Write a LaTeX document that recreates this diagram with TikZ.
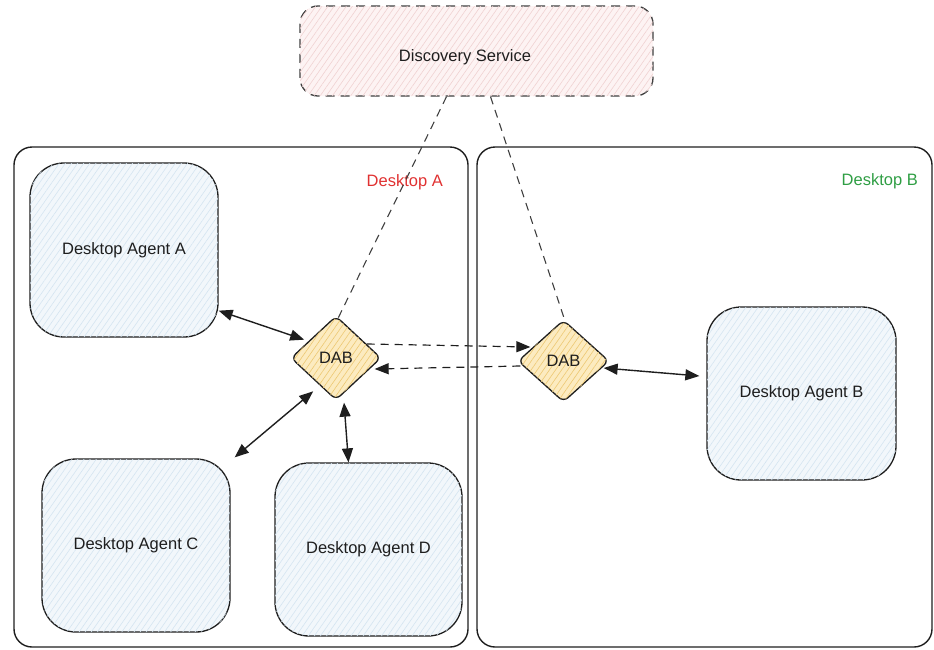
\documentclass[tikz,border=0pt]{standalone}
\usepackage{fontspec}
\setmainfont{Liberation Sans}
\usetikzlibrary{shapes.geometric,arrows.meta,patterns.meta}
\definecolor{ink}{HTML}{1E1E1E}
\definecolor{agfill}{HTML}{F2F7FB}
\definecolor{aghatch}{HTML}{D5E5F1}
\definecolor{dabfill}{HTML}{FCEBC0}
\definecolor{dabhatch}{HTML}{EDC873}
\definecolor{dsfill}{HTML}{FDF3F3}
\definecolor{dshatch}{HTML}{F0D2D2}
\definecolor{redlbl}{HTML}{E03131}
\definecolor{greenlbl}{HTML}{2F9E44}
\tikzset{
  hatch/.style={postaction={pattern={Lines[angle=55,distance=5pt,line width=0.6pt]},pattern color=#1}},
  container/.style={draw=ink,line width=1.4pt,rounded corners=18pt,minimum width=#1,minimum height=500pt,inner sep=0pt},
  agent/.style={draw=ink,line width=1.3pt,rounded corners=34pt,fill=agfill,hatch=aghatch,minimum width=188pt,minimum height=174pt,inner sep=0pt,text=ink,font=\fontsize{16.5}{18}\selectfont},
  dab/.style={diamond,draw=ink,line width=1.3pt,rounded corners=6pt,fill=dabfill,hatch=dabhatch,minimum width=90pt,minimum height=84pt,inner sep=0pt,text=ink,font=\fontsize{16.5}{18}\selectfont},
  disc/.style={draw=ink!85,line width=1.3pt,dash pattern=on 9pt off 6pt,rounded corners=18pt,fill=dsfill,hatch=dshatch,minimum width=353pt,minimum height=90pt,inner sep=0pt},
  txt/.style={text=ink,font=\fontsize{16.5}{18}\selectfont,inner sep=0pt},
  lbl/.style={font=\fontsize{16.5}{18}\selectfont,anchor=east,inner sep=0pt},
  tip/.style={Triangle[length=14pt,width=11pt]},
  link/.style={draw=ink,line width=1.4pt,{Triangle[length=14pt,width=11pt]}-{Triangle[length=14pt,width=11pt]}},
  dlink/.style={draw=ink!85,line width=1.1pt,dash pattern=on 8pt off 6pt},
  darrow/.style={draw=ink,line width=1.2pt,dash pattern=on 8pt off 6pt,-{Triangle[length=14pt,width=11pt]}}
}
\begin{document}
\begin{tikzpicture}[x=1pt,y=-1pt]
\useasboundingbox (0,0) rectangle (934,649);
% containers
\node[container=454pt] (deskA) at (241,397) {};
\node[container=455pt] (deskB) at (704.5,397) {};
\node[lbl,text=redlbl] (lblA) at (443,182) {Desktop A};
\node[lbl,text=greenlbl] (lblB) at (918,181) {Desktop B};
% discovery
\node[disc] (ds) at (476.5,51) {};
\node[txt] (dstext) at (465,57) {Discovery Service};
% agents
\node[agent] (agA) at (124,250) {Desktop Agent A};
\node[agent,minimum height=173pt] (agC) at (136,545.5) {Desktop Agent C};
\node[agent,minimum width=187pt,minimum height=173pt] (agD) at (368.5,549.5) {Desktop Agent D};
\node[agent,minimum width=189pt,minimum height=173pt] (agB) at (801.5,393.5) {Desktop Agent B};
% bridges
\node[dab] (dabL) at (336,358) {DAB};
\node[dab,minimum width=91pt,minimum height=82pt] (dabR) at (563.5,361) {DAB};
% discovery links
\draw[dlink] ([xshift=-30pt]ds.south) -- ([xshift=2pt,yshift=-3pt]dabL.north);
\draw[dlink] ([xshift=14pt]ds.south) -- ([xshift=2pt,yshift=-3pt]dabR.north);
% agent links
\draw[link] ([yshift=27pt]agA.south east) -- ([xshift=-9pt,yshift=-3pt]dabL.north west);
\draw[link] ([xshift=4pt,yshift=1pt]agC.north east) -- ([xshift=0pt,yshift=-12pt]dabL.south west);
\draw[link] ([xshift=8pt,yshift=-2pt]dabL.south) -- ([xshift=-20pt]agD.north);
\draw[link] ([xshift=-6pt,yshift=-7pt]dabR.east) -- ([xshift=-7pt,yshift=17.5pt]agB.west);
% bridge-to-bridge
\draw[darrow] ([xshift=-15pt,yshift=14pt]dabL.east) -- ([xshift=13pt,yshift=14pt]dabR.west);
\draw[darrow] ([xshift=3pt,yshift=-5pt]dabR.west) -- ([xshift=-7pt,yshift=-11pt]dabL.east);
\end{tikzpicture}
\end{document}
